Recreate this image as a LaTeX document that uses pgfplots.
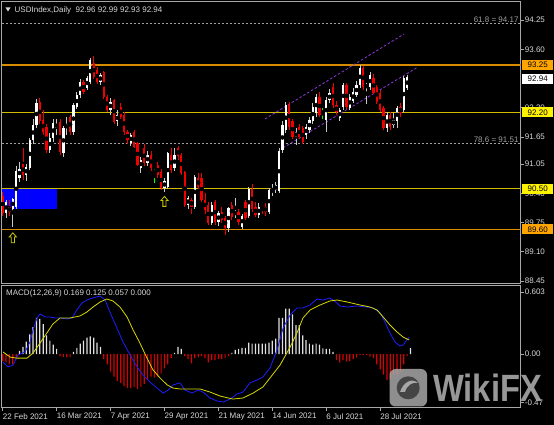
\documentclass[border=0pt]{standalone}
\usepackage{pgfplots}
\pgfplotsset{compat=1.18}
\usepackage{pgfplotstable}
\usepackage{fontspec}
\setmainfont{Liberation Sans}

\definecolor{lbl}{HTML}{D8D8D8}
\definecolor{frame}{HTML}{A8A8A8}
\definecolor{candred}{HTML}{F00000}
\definecolor{wickw}{HTML}{C8C8C8}
\definecolor{srorange}{RGB}{215,140,0}
\definecolor{sryellow}{RGB}{210,190,0}
\definecolor{boxor}{HTML}{FFA500}
\definecolor{boxyl}{HTML}{FFF200}
\definecolor{chan}{HTML}{8E3AD8}
\definecolor{fibc}{HTML}{A0A0A0}
\definecolor{macdblue}{HTML}{1E1EFF}
\definecolor{macdsig}{HTML}{D8D800}
\definecolor{arrowc}{HTML}{C8C800}

% up candles: bar index, open, high, low, close
\pgfplotstableread{
i o h l c
1 89.97 90.25 89.85 90.20
3 90.05 90.30 89.65 90.28
4 90.10 91.00 90.05 90.90
5 90.75 91.10 90.65 90.95
7 90.80 91.05 90.68 90.98
8 90.97 91.62 90.92 91.58
9 91.58 92.05 91.50 91.92
10 91.92 92.50 91.85 92.40
14 91.36 91.75 91.30 91.63
15 91.63 92.05 91.55 91.96
16 91.85 92.05 91.70 91.95
18 91.30 91.90 91.20 91.85
19 91.85 92.10 91.70 91.93
21 91.76 92.40 91.70 92.36
22 92.32 92.65 92.28 92.58
23 92.58 92.95 92.52 92.87
25 92.74 93.00 92.70 92.96
26 92.87 93.40 92.82 93.36
29 92.87 93.08 92.80 93.03
32 92.25 92.52 92.15 92.43
34 92.00 92.25 91.90 92.15
38 91.52 91.75 91.45 91.70
41 90.96 91.20 90.85 91.14
43 91.07 91.35 91.00 91.25
48 90.52 90.75 90.42 90.67
49 90.54 91.32 90.50 91.29
51 90.96 91.40 90.90 91.25
55 90.14 90.35 90.05 90.29
57 90.10 90.80 90.05 90.76
62 89.74 90.20 89.70 90.14
64 89.76 90.00 89.68 89.96
67 89.63 90.10 89.55 90.07
69 89.94 90.30 89.85 89.98
71 89.66 89.95 89.60 89.90
73 89.90 90.55 89.85 90.50
76 89.92 90.18 89.85 90.10
79 89.98 90.52 89.95 90.47
80 90.42 90.60 90.35 90.50
81 90.47 90.65 90.40 90.58
82 90.45 91.40 90.40 91.33
83 91.36 92.00 91.30 91.92
84 91.80 92.42 91.75 92.36
87 91.65 91.85 91.47 91.76
90 91.70 91.95 91.60 91.87
91 91.80 92.10 91.75 92.03
92 92.00 92.40 91.95 92.32
93 92.18 92.60 92.10 92.54
96 92.03 92.55 91.76 92.47
97 92.47 92.72 92.40 92.62
100 92.07 92.30 92.00 92.25
101 92.32 92.85 92.25 92.81
103 92.30 92.60 92.25 92.54
104 92.45 92.75 92.40 92.65
105 92.58 92.90 92.55 92.81
106 92.80 93.25 92.75 93.18
108 92.76 92.85 92.38 92.80
109 92.76 93.10 92.70 93.03
114 91.85 92.20 91.76 92.14
116 91.92 92.18 91.85 92.03
117 92.00 92.35 91.85 92.29
119 92.25 93.00 92.20 92.96
120 92.74 93.02 92.70 92.98
}\upcandles

% down candles
\pgfplotstableread{
i o h l c
0 90.35 90.42 89.90 89.97
2 90.10 90.25 89.90 89.98
6 91.05 91.40 90.70 90.80
11 92.42 92.52 91.95 92.00
12 92.02 92.25 91.70 91.76
13 91.87 91.95 91.30 91.36
17 91.98 92.05 91.25 91.32
20 92.10 92.15 91.70 91.76
24 92.87 92.92 92.60 92.65
27 93.29 93.45 92.95 92.98
28 93.14 93.20 92.82 92.87
30 93.10 93.12 92.50 92.54
31 92.54 92.58 92.20 92.25
33 92.47 92.50 91.95 91.98
35 92.32 92.40 92.05 92.10
36 92.14 92.20 91.70 91.76
37 91.76 91.80 91.50 91.58
39 91.76 91.80 91.40 91.43
40 91.52 91.55 91.00 91.03
42 91.40 91.50 91.00 91.07
44 91.25 91.35 90.90 90.96
46 91.03 91.10 90.75 90.80
47 90.87 90.95 90.48 90.52
50 91.25 91.40 90.85 90.92
52 91.40 91.45 91.15 91.22
53 91.25 91.30 90.80 90.85
54 90.87 90.90 90.10 90.14
56 90.25 90.30 89.93 90.10
58 90.74 90.85 90.50 90.54
59 90.74 90.85 90.20 90.25
60 90.25 90.40 89.95 90.03
61 90.14 90.20 89.70 89.74
63 90.20 90.25 89.70 89.76
65 89.98 90.10 89.75 89.80
66 89.85 89.90 89.47 89.63
68 90.14 90.20 89.80 89.87
70 89.98 90.05 89.70 89.76
72 90.20 90.25 89.80 89.85
74 90.50 90.60 89.98 90.05
75 90.10 90.20 89.88 89.92
77 90.12 90.15 89.95 90.05
78 90.10 90.18 89.90 89.98
85 92.36 92.42 91.80 91.87
86 92.00 92.05 91.60 91.65
88 91.87 91.95 91.60 91.65
89 91.85 91.90 91.50 91.54
94 92.54 92.65 92.10 92.14
98 92.76 92.85 92.30 92.36
99 92.36 92.45 92.15 92.20
102 92.81 92.85 92.28 92.32
107 93.18 93.22 92.70 92.76
110 92.96 93.05 92.60 92.63
111 92.76 92.80 92.38 92.43
112 92.63 92.70 92.20 92.25
113 92.29 92.35 91.80 91.85
115 92.14 92.20 91.80 91.87
118 92.32 92.40 92.10 92.18
121 92.96 92.99 92.93 92.94
}\dncandles

% doji candles (drawn green)
\pgfplotstableread{
i o h l c
45 90.88 90.95 90.63 90.88
95 92.20 92.30 92.05 92.20
}\djcandles

% MACD histogram
\pgfplotstableread{
i v
5 0.03
6 0.07
7 0.12
8 0.19
9 0.26
10 0.35
11 0.34
12 0.29
13 0.18
14 0.13
15 0.09
16 0.05
21 0.02
22 0.06
23 0.10
24 0.13
25 0.16
26 0.17
27 0.16
28 0.11
29 0.07
51 0.01
52 0.07
53 0.05
68 0.01
69 0.04
70 0.05
71 0.06
72 0.06
73 0.11
74 0.10
75 0.10
76 0.10
77 0.10
78 0.10
79 0.11
80 0.13
81 0.15
82 0.35
83 0.35
84 0.44
85 0.44
86 0.385
87 0.28
88 0.28
89 0.18
90 0.135
91 0.10
92 0.09
93 0.10
94 0.09
95 0.055
96 0.05
97 0.05
98 0.02
121 0.057
}\histpos

\pgfplotstableread{
i v
0 -0.07
1 -0.08
2 -0.10
3 -0.10
4 -0.05
17 -0.02
18 -0.03
19 -0.03
20 -0.03
30 -0.05
31 -0.10
32 -0.17
33 -0.22
34 -0.26
35 -0.28
36 -0.31
37 -0.33
38 -0.33
39 -0.32
40 -0.34
41 -0.32
42 -0.29
43 -0.25
44 -0.22
45 -0.23
46 -0.22
47 -0.19
48 -0.14
49 -0.10
50 -0.04
54 -0.02
55 -0.05
56 -0.09
57 -0.04
58 -0.03
59 -0.02
60 -0.04
61 -0.08
62 -0.06
63 -0.06
64 -0.05
65 -0.05
66 -0.04
67 -0.02
99 -0.06
100 -0.08
101 -0.06
102 -0.075
103 -0.07
104 -0.05
105 -0.035
106 -0.01
107 -0.01
108 -0.01
109 -0.025
110 -0.04
111 -0.10
112 -0.15
113 -0.20
114 -0.25
115 -0.24
116 -0.20
117 -0.20
118 -0.17
119 -0.10
120 -0.02
}\histneg

\pgfdeclareplotmark{hollowup}{%
  \pgfpathmoveto{\pgfqpoint{0pt}{5pt}}%
  \pgfpathlineto{\pgfqpoint{3.6pt}{0.8pt}}%
  \pgfpathlineto{\pgfqpoint{1.6pt}{0.8pt}}%
  \pgfpathlineto{\pgfqpoint{1.6pt}{-5pt}}%
  \pgfpathlineto{\pgfqpoint{-1.6pt}{-5pt}}%
  \pgfpathlineto{\pgfqpoint{-1.6pt}{0.8pt}}%
  \pgfpathlineto{\pgfqpoint{-3.6pt}{0.8pt}}%
  \pgfpathclose
  \pgfusepathqfillstroke}

\pgfplotsset{
  mtpanel/.style={
    scale only axis, anchor=south west,
    width=519pt, xmin=-0.3, xmax=153.7,
    axis line style={draw=frame, line width=0.8pt},
    tick align=outside, major tick length=3pt,
    tick style={draw=frame, line width=0.6pt},
    ytick pos=right, yticklabel pos=right,
    every tick label/.append style={font=\fontsize{8}{9}\selectfont, text=lbl},
    yticklabel style={inner sep=1pt},
    clip mode=individual,
  },
  wick/.style={only marks, mark=none, forget plot,
    error bars/.cd, y dir=both, y explicit, error mark=none,
    error bar style={line width=0.8pt, draw=#1}},
  body/.style={only marks, mark=none, forget plot,
    error bars/.cd, y dir=both, y explicit, error mark=none,
    error bar style={line width=2.3pt, draw=#1}},
}

\begin{document}
\begin{tikzpicture}
\useasboundingbox (0pt,0pt) rectangle (554pt,425pt);
\fill[black] (0pt,0pt) rectangle (554pt,425pt);

% ---------------- price panel ----------------
\begin{axis}[mtpanel, at={(1.7pt,142pt)}, height=281.3pt,
  ymin=88.406, ymax=94.657, xtick=\empty,
  ytick={88.45,89.10,89.75,90.40,91.05,91.65,92.30,93.60,94.25},
  yticklabels={88.45,89.10,89.75,90.40,91.05,91.65,92.30,93.60,94.25},
]
\fill[blue] (axis cs:-0.3,90.05) rectangle (axis cs:16.1,90.49);

% support / resistance lines
\addplot[draw=srorange, line width=1.1pt] coordinates {(-0.3,93.25) (153.7,93.25)};
\addplot[draw=sryellow, line width=1.1pt] coordinates {(-0.3,92.20) (153.7,92.20)};
\addplot[draw=sryellow, line width=1.1pt] coordinates {(-0.3,90.50) (153.7,90.50)};
\addplot[draw=srorange, line width=1.1pt] coordinates {(-0.3,89.60) (153.7,89.60)};
% fibonacci levels
\addplot[fibc, line width=0.7pt, dash pattern=on 2pt off 2pt] coordinates {(-0.3,94.17) (153.7,94.17)};
\addplot[fibc, line width=0.7pt, dash pattern=on 2pt off 2pt] coordinates {(-0.3,91.51) (153.7,91.51)};
\node[anchor=south east, inner sep=1pt, text=fibc, font=\fontsize{8}{9}\selectfont] at (axis cs:153.4,94.17) {61.8 = 94.17};
\node[anchor=south east, inner sep=1pt, text=fibc, font=\fontsize{8}{9}\selectfont] at (axis cs:153.4,91.51) {78.6 = 91.51};
% rising channel
\addplot[chan, line width=0.8pt, dash pattern=on 2.5pt off 2pt] coordinates {(77.8,92.05) (119.1,93.94)};
\addplot[chan, line width=0.8pt, dash pattern=on 2.5pt off 2pt] coordinates {(83.2,91.41) (122.9,93.19)};

% candles
\addplot[wick=wickw] table[x=i, y expr={(\thisrow{h}+\thisrow{l})/2}, y error expr={(\thisrow{h}-\thisrow{l})/2}] {\upcandles};
\addplot[wick=candred] table[x=i, y expr={(\thisrow{h}+\thisrow{l})/2}, y error expr={(\thisrow{h}-\thisrow{l})/2}] {\dncandles};
\addplot[wick=green] table[x=i, y expr={(\thisrow{h}+\thisrow{l})/2}, y error expr={(\thisrow{h}-\thisrow{l})/2}] {\djcandles};
\addplot[body=white] table[x=i, y expr={(\thisrow{o}+\thisrow{c})/2}, y error expr={max(abs(\thisrow{o}-\thisrow{c})/2,0.012)}] {\upcandles};
\addplot[body=candred] table[x=i, y expr={(\thisrow{o}+\thisrow{c})/2}, y error expr={max(abs(\thisrow{o}-\thisrow{c})/2,0.012)}] {\dncandles};
\addplot[body=green] table[x=i, y expr={(\thisrow{o}+\thisrow{c})/2}, y error expr={max(abs(\thisrow{o}-\thisrow{c})/2,0.012)}] {\djcandles};

% low arrows
\addplot[only marks, mark=hollowup, mark options={draw=arrowc, fill=black, line width=0.8pt}] coordinates {(3,89.41) (48,90.22)};

\coordinate (l9325) at (axis cs:153.7,93.25);
\coordinate (l9294) at (axis cs:153.7,92.94);
\coordinate (l9220) at (axis cs:153.7,92.20);
\coordinate (l9050) at (axis cs:153.7,90.50);
\coordinate (l8960) at (axis cs:153.7,89.60);
\end{axis}

% ---------------- MACD panel ----------------
\begin{axis}[mtpanel, at={(1.7pt,17.3pt)}, height=122pt,
  ymin=-0.521, ymax=0.663,
  ytick={-0.47,0,0.603}, yticklabels={-0.47,0.00,0.603},
  xtick={0,16,32,48,64,80,96,112},
  xticklabels={22 Feb 2021,16 Mar 2021,7 Apr 2021,29 Apr 2021,21 May 2021,14 Jun 2021,6 Jul 2021,28 Jul 2021},
  xtick pos=bottom,
  xticklabel style={anchor=north west, inner sep=0pt, yshift=-2.5pt},
]
\addplot[ybar, bar width=1.2pt, bar shift=0pt, fill=white!88!black, draw=none] table[x=i, y=v] {\histpos};
\addplot[ybar, bar width=1.2pt, bar shift=0pt, fill=candred!90!black, draw=none] table[x=i, y=v] {\histneg};

\addplot[macdblue, line width=0.8pt] coordinates {
(0.1,-0.078) (1.6,-0.126) (3.1,-0.107) (4.5,-0.01) (6.6,0.02) (8.1,0.117)
(9.0,0.233) (10.2,0.35) (11.1,0.388) (12.6,0.36) (14.0,0.36) (15.5,0.35)
(17.0,0.35) (19.1,0.34) (20.6,0.35) (22.0,0.427) (23.5,0.495) (25.0,0.524)
(26.8,0.544) (28.9,0.563) (30.4,0.524) (31.8,0.408) (33.9,0.252) (35.7,0.117)
(37.8,-0.01) (39.9,-0.126) (41.6,-0.204) (43.7,-0.272) (45.8,-0.33) (47.6,-0.379)
(49.1,-0.35) (50.5,-0.30) (52.6,-0.28) (54.1,-0.35) (56.2,-0.379) (58.0,-0.35)
(59.4,-0.369) (61.5,-0.427) (63.6,-0.456) (65.4,-0.466) (67.5,-0.437) (69.5,-0.388)
(71.3,-0.369) (73.4,-0.28) (75.5,-0.252) (77.2,-0.223) (79.3,-0.136) (81.4,0.039)
(83.2,0.252) (85.3,0.379) (87.3,0.447) (89.1,0.447) (91.2,0.476) (93.3,0.534)
(95.0,0.524) (97.1,0.544) (99.2,0.495) (100.1,0.466) (102.2,0.456) (105.1,0.466)
(108.1,0.456) (109.9,0.447) (112.0,0.398) (113.4,0.311) (114.9,0.204) (116.4,0.117)
(117.9,0.078) (118.8,0.087) (120.6,0.165)
};
\addplot[macdsig, line width=0.8pt] coordinates {
(0.1,0.02) (2.2,-0.03) (4.2,-0.04) (7.2,-0.04) (9.0,0.01) (11.1,0.107)
(13.1,0.204) (14.9,0.291) (17.0,0.35) (20.0,0.35) (22.9,0.369) (25.0,0.408)
(26.8,0.456) (28.9,0.505) (30.9,0.534) (32.7,0.515) (34.8,0.456) (36.9,0.359)
(38.7,0.233) (40.7,0.107) (42.8,-0.039) (44.6,-0.155) (46.7,-0.233) (48.8,-0.30)
(50.5,-0.33) (52.7,-0.34) (58.6,-0.34) (61.5,-0.369) (64.5,-0.408) (68.3,-0.437)
(71.3,-0.427) (74.3,-0.379) (77.2,-0.32) (79.3,-0.233) (82.3,-0.107) (85.3,0.068)
(87.3,0.204) (89.1,0.35) (91.2,0.427) (94.2,0.476) (97.1,0.515) (99.2,0.524)
(102.2,0.505) (106.0,0.476) (109.0,0.456) (111.1,0.427) (112.9,0.359) (114.9,0.282)
(117.0,0.214) (118.8,0.165) (120.6,0.136)
};
\end{axis}

% price tags on the scale
\tikzset{tag/.style={anchor=west, xshift=1.3pt, minimum width=31pt, minimum height=10pt, inner sep=0pt, text=black, font=\fontsize{8}{9}\selectfont}}
\node[tag, fill=boxor] at (l9325) {93.25};
\node[tag, fill=white] at (l9294) {92.94};
\node[tag, fill=boxyl] at (l9220) {92.20};
\node[tag, fill=boxyl] at (l9050) {90.50};
\node[tag, fill=boxor] at (l8960) {89.60};

% titles
\fill[lbl] (5.5pt,417.5pt) -- (10.5pt,417.5pt) -- (8pt,413.5pt) -- cycle;
\node[anchor=west, inner sep=0pt, text=lbl, font=\fontsize{8}{9}\selectfont] at (14.5pt,415pt) {USDIndex,Daily\ \ 92.96 92.99 92.93 92.94};
\node[anchor=west, inner sep=0pt, text=lbl, font=\fontsize{8}{9}\selectfont] at (6pt,132pt) {MACD(12,26,9) 0.169 0.125 0.057 0.000};

% watermark
\fill[gray!60, fill opacity=0.8, rounded corners=6pt] (389.5pt,18.5pt) rectangle (427pt,56pt);
\fill[black!80, fill opacity=0.8] (408.2pt,37.2pt) circle (11.5pt);
\fill[gray!60, fill opacity=0.9] (400pt,33pt) .. controls (404pt,44pt) and (412pt,47pt) .. (418pt,42pt) .. controls (412pt,43pt) and (407pt,40pt) .. (405pt,33pt) -- cycle;
\node[anchor=west, inner sep=0pt, text=gray!60, text opacity=0.85, font=\fontsize{38}{38}\selectfont\bfseries] at (433pt,37.5pt) {\scalebox{0.86}[1]{WikiFX}};
\end{tikzpicture}
\end{document}
